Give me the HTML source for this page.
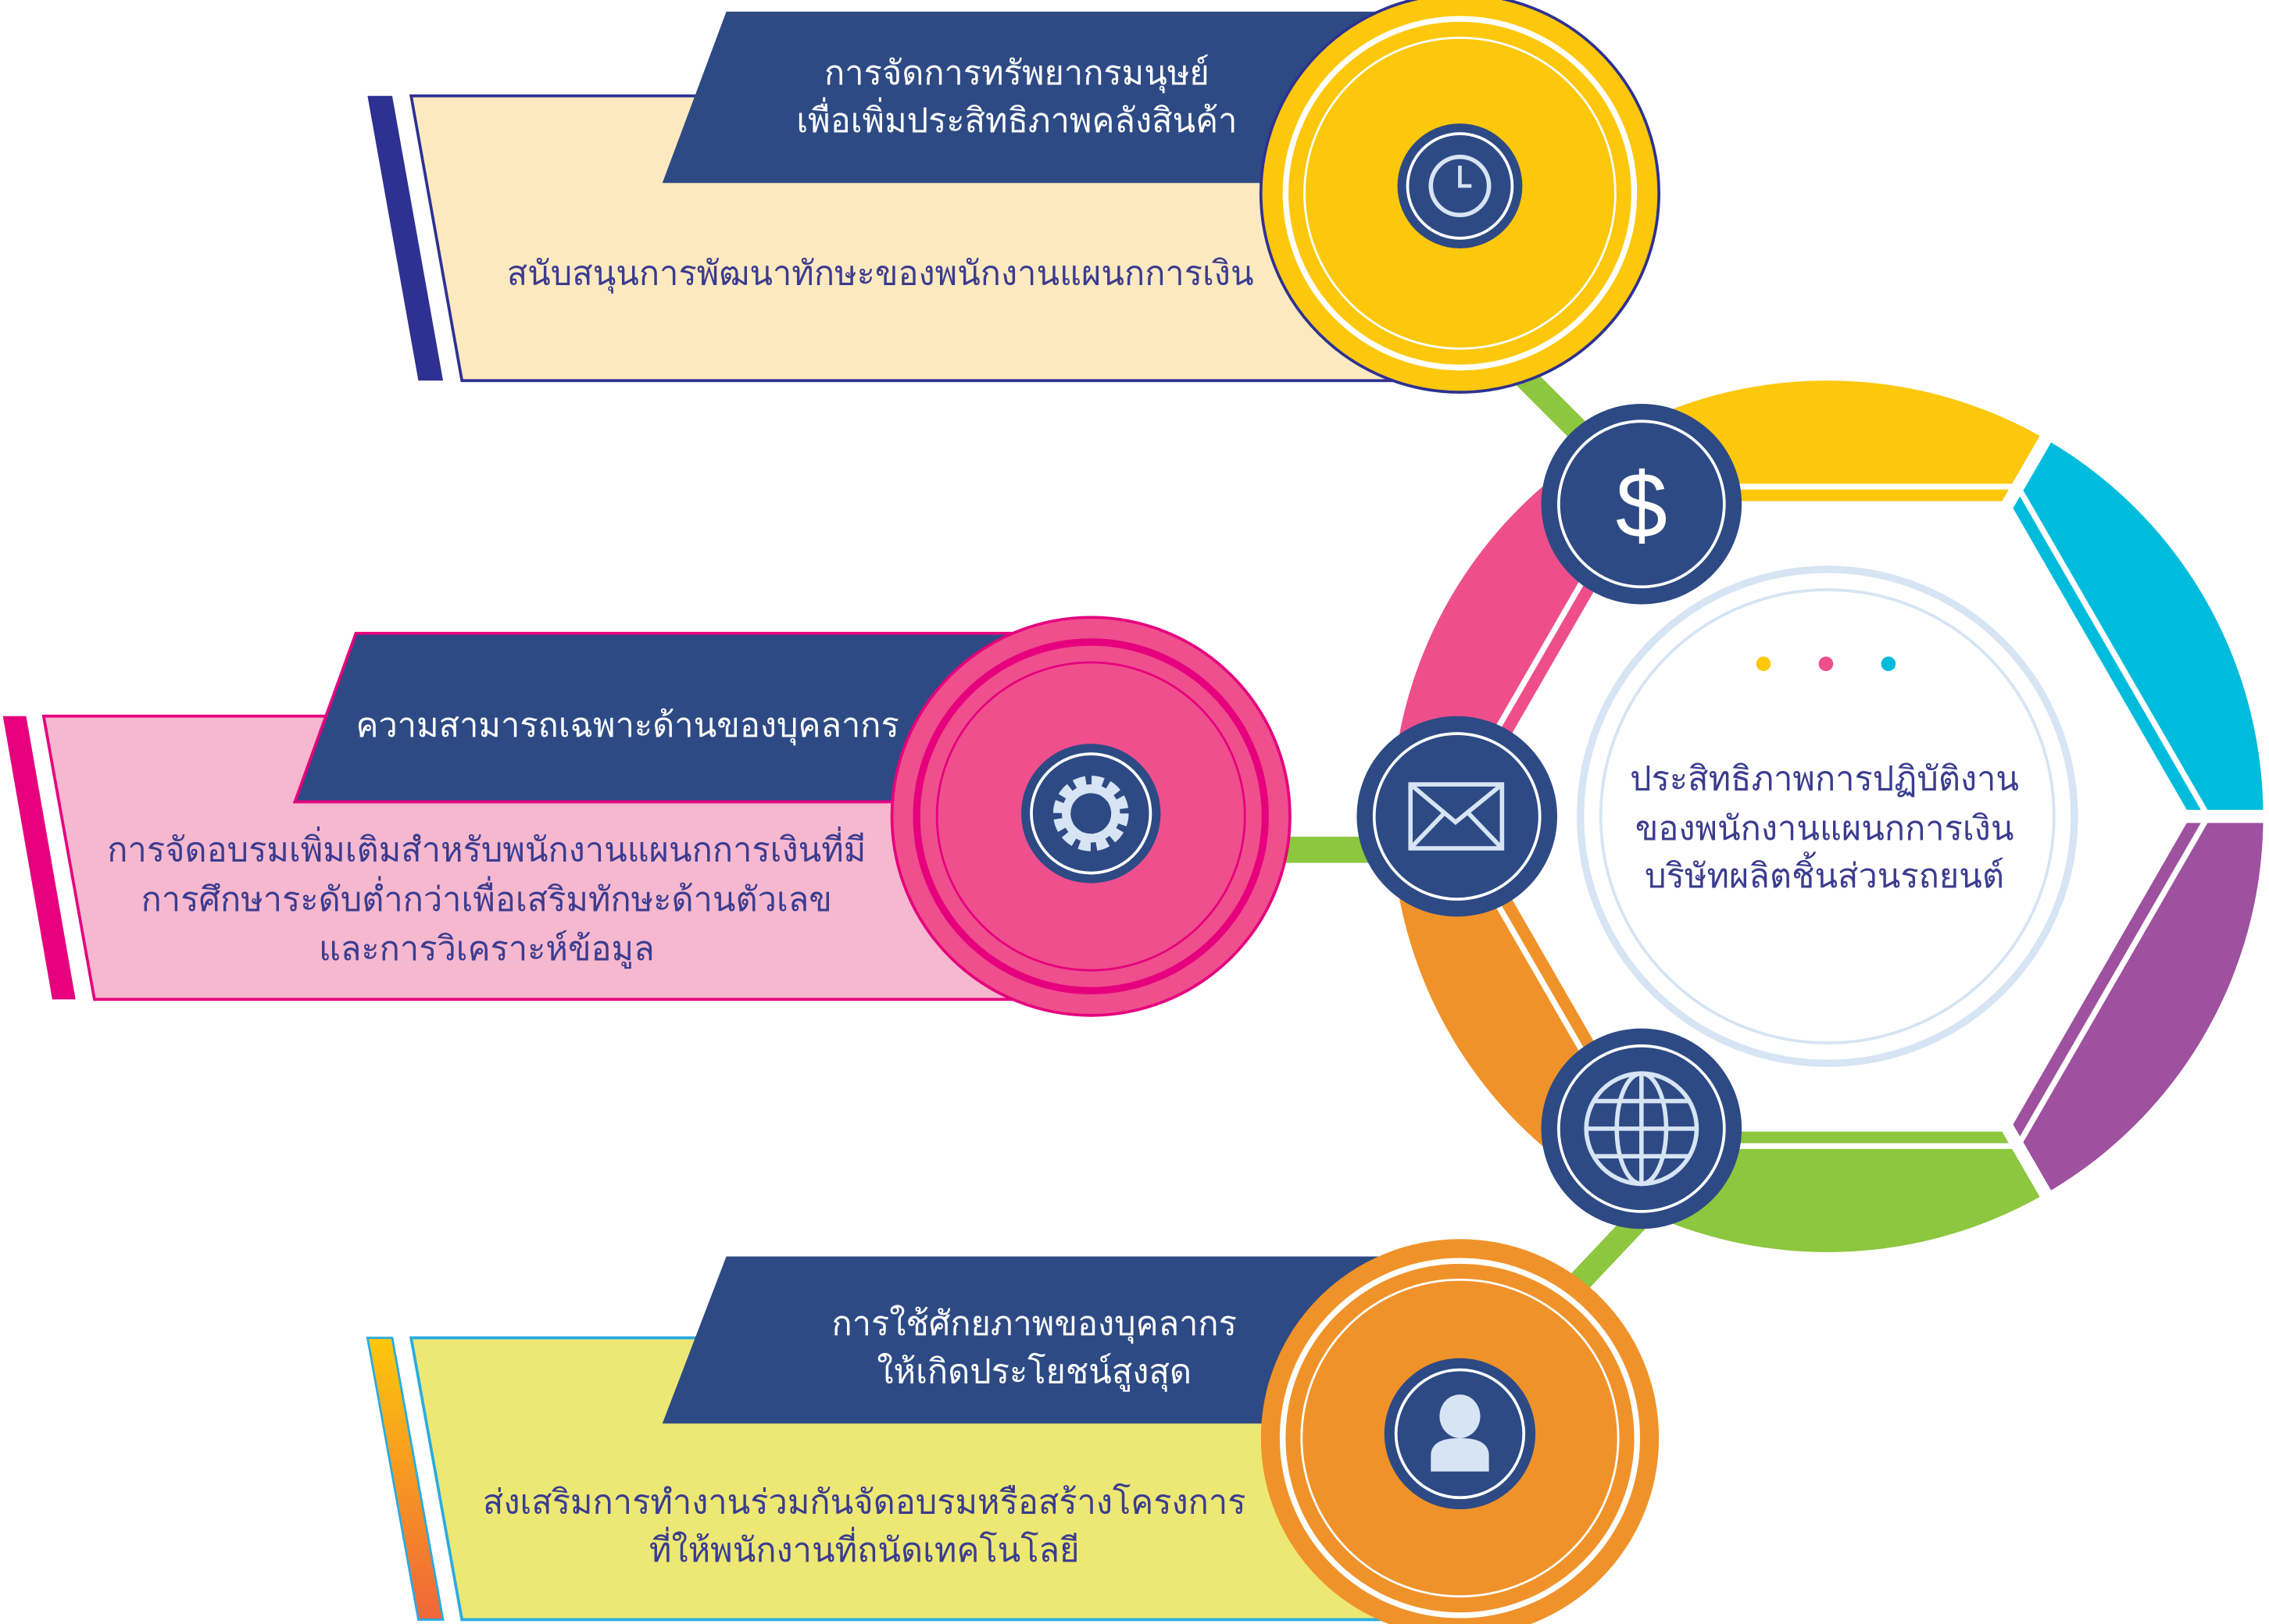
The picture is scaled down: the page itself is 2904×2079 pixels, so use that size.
<!DOCTYPE html>
<html><head><meta charset="utf-8"><style>
html,body{margin:0;padding:0;background:#fff;}
svg{display:block}
text{font-family:"Liberation Sans","DejaVu Sans","Noto Sans CJK SC",sans-serif;}
</style></head><body>
<svg width="2904" height="2079" viewBox="0 0 1562 1118" preserveAspectRatio="none" xmlns="http://www.w3.org/2000/svg">
<defs>
<clipPath id="ring"><circle cx="1258" cy="562" r="300"/></clipPath>
<linearGradient id="og" x1="0" y1="0" x2="0" y2="1"><stop offset="0" stop-color="#fdc70c"/><stop offset="1" stop-color="#f0663a"/></linearGradient>
</defs>

<g clip-path="url(#ring)">
<polygon points="1258,562 958,42 1558,42" fill="#fdc70c"/>
<polygon points="1258,562 1558,42 1600,562" fill="#00bcdc"/>
<polygon points="1258,562 1600,562 1558,1082" fill="#9e519f"/>
<polygon points="1258,562 1558,1082 958,1082" fill="#8dc63f"/>
<polygon points="1258,562 958,1082 900,562" fill="#f0922a"/>
<polygon points="1258,562 900,562 958,42" fill="#ee4f8a"/>
</g>
<polygon points="1520,562 1389,335 1127,335 996,562 1127,789 1389,789" fill="none" stroke="#fff" stroke-width="4"/>
<g stroke="#fff" stroke-width="9">
<line x1="1258" y1="562" x2="1560" y2="562"/>
<line x1="1258" y1="562" x2="1410" y2="299"/>
<line x1="1258" y1="562" x2="1410" y2="825"/>
<line x1="1258" y1="562" x2="1106" y2="299"/>
<line x1="1258" y1="562" x2="1106" y2="825"/>
<line x1="1258" y1="562" x2="950" y2="562"/>
</g>
<polygon points="1508,562 1383,345 1133,345 1008,562 1133,779 1383,779" fill="#fff"/>

<line x1="1045" y1="255" x2="1095" y2="305" stroke="#8dc63f" stroke-width="16"/>
<line x1="880" y1="585" x2="945" y2="585" stroke="#8dc63f" stroke-width="18"/>
<line x1="1082" y1="888" x2="1132" y2="835" stroke="#8dc63f" stroke-width="16"/>

<circle cx="1258" cy="562" r="170" fill="#fff" stroke="#d6e4f4" stroke-width="5"/>
<circle cx="1258" cy="562" r="156" fill="none" stroke="#d6e4f4" stroke-width="2"/>
<circle cx="1214" cy="457" r="5" fill="#fdc70c"/>
<circle cx="1257" cy="457" r="5" fill="#ee4f8a"/>
<circle cx="1300" cy="457" r="5" fill="#00bcdc"/>
<g fill="#3b3c8f" font-size="23.3" text-anchor="middle">
<text x="1256" y="544">ประสิทธิภาพการปฏิบัติงาน</text>
<text x="1256" y="578">ของพนักงานแผนกการเงิน</text>
<text x="1256" y="611">บริษัทผลิตชิ้นส่วนรถยนต์</text>
</g>

<g>
<circle cx="1130" cy="347" r="69" fill="#2d4a84"/><circle cx="1130" cy="347" r="57" fill="none" stroke="#fff" stroke-width="2"/>
<text x="1130" y="370" font-size="64" fill="#fff" text-anchor="middle">$</text>
<circle cx="1003" cy="562" r="69" fill="#2d4a84"/><circle cx="1003" cy="562" r="57" fill="none" stroke="#fff" stroke-width="2"/>
<rect x="971" y="540" width="63" height="44" fill="none" stroke="#d6e4f4" stroke-width="3"/>
<polyline points="971,540 1002,566 1034,540" fill="none" stroke="#d6e4f4" stroke-width="3"/>
<line x1="971" y1="584" x2="994" y2="560" stroke="#d6e4f4" stroke-width="3"/><line x1="1034" y1="584" x2="1011" y2="560" stroke="#d6e4f4" stroke-width="3"/>
<circle cx="1130" cy="777" r="69" fill="#2d4a84"/><circle cx="1130" cy="777" r="57" fill="none" stroke="#fff" stroke-width="2"/>
<g fill="none" stroke="#d6e4f4" stroke-width="3">
<circle cx="1130" cy="777" r="38"/><ellipse cx="1130" cy="777" rx="17" ry="38"/>
<line x1="1130" y1="739" x2="1130" y2="815"/><line x1="1092" y1="777" x2="1168" y2="777"/>
<line x1="1097" y1="758" x2="1163" y2="758"/><line x1="1097" y1="796" x2="1163" y2="796"/>
</g>
</g>

<polygon points="253,66 270,66 305,262 288,262" fill="#2e3192"/>
<polygon points="283,66 960,66 960,262 318,262" fill="#fde9c0" stroke="#2e3192" stroke-width="2"/>
<polygon points="500,8 960,8 920,126 456,126" fill="#2d4a84"/>
<g fill="#fff" font-size="23.3" text-anchor="middle">
<text x="700" y="58">การจัดการทรัพยากรมนุษย์</text>
<text x="700" y="91">เพื่อเพิ่มประสิทธิภาพคลังสินค้า</text>
</g>
<text x="606" y="196" font-size="23.3" fill="#3b3c8f" text-anchor="middle">สนับสนุนการพัฒนาทักษะของพนักงานแผนกการเงิน</text>
<circle cx="1005" cy="133" r="137" fill="#fdc70c" stroke="#2e3192" stroke-width="2"/>
<circle cx="1005" cy="133" r="120" fill="none" stroke="#fff" stroke-width="4"/>
<circle cx="1005" cy="133" r="107" fill="none" stroke="#fff" stroke-width="1.5"/>
<circle cx="1005" cy="128" r="43" fill="#2d4a84"/>
<circle cx="1005" cy="128" r="36" fill="none" stroke="#fff" stroke-width="2"/>
<circle cx="1005" cy="128" r="20" fill="none" stroke="#d6e4f4" stroke-width="3"/>
<polyline points="1005,114 1005,128 1013,128" fill="none" stroke="#d6e4f4" stroke-width="2.5"/>

<polygon points="2,493 18,493 52,688 36,688" fill="#e6007e"/>
<polygon points="30,493 720,493 720,688 65,688" fill="#f6b8cf" stroke="#e6007e" stroke-width="2"/>
<polygon points="245,436 720,436 700,552 203,552" fill="#2d4a84" stroke="#e6007e" stroke-width="2"/>
<text x="432" y="507" font-size="23.3" fill="#fff" text-anchor="middle">ความสามารถเฉพาะด้านของบุคลากร</text>
<g fill="#3b3c8f" font-size="23.3" text-anchor="middle">
<text x="335" y="593">การจัดอบรมเพิ่มเติมสำหรับพนักงานแผนกการเงินที่มี</text>
<text x="335" y="627">การศึกษาระดับต่ำกว่าเพื่อเสริมทักษะด้านตัวเลข</text>
<text x="335" y="661">และการวิเคราะห์ข้อมูล</text>
</g>
<circle cx="751" cy="562" r="137" fill="#ef4f8d" stroke="#e6007e" stroke-width="2"/>
<circle cx="751" cy="562" r="120" fill="none" stroke="#e6007e" stroke-width="5"/>
<circle cx="751" cy="562" r="106" fill="none" stroke="#e6007e" stroke-width="1.5"/>
<circle cx="751" cy="560" r="48" fill="#2d4a84"/>
<circle cx="751" cy="560" r="41" fill="none" stroke="#fff" stroke-width="2"/>
<circle cx="751" cy="560" r="20" fill="none" stroke="#d6e4f4" stroke-width="12" stroke-dasharray="7 3.5"/>
<circle cx="751" cy="560" r="17" fill="none" stroke="#d6e4f4" stroke-width="6"/>

<polygon points="253,921 270,921 305,1115 288,1115" fill="url(#og)" stroke="#29abe2" stroke-width="1.5"/>
<polygon points="283,921 960,921 960,1115 318,1115" fill="#ece873" stroke="#29abe2" stroke-width="2"/>
<polygon points="500,865 960,865 960,980 456,980" fill="#2d4a84"/>
<g fill="#fff" font-size="23.3" text-anchor="middle">
<text x="712" y="919">การใช้ศักยภาพของบุคลากร</text>
<text x="712" y="952">ให้เกิดประโยชน์สูงสุด</text>
</g>
<g fill="#3b3c8f" font-size="23.3" text-anchor="middle">
<text x="595" y="1042">ส่งเสริมการทำงานร่วมกันจัดอบรมหรือสร้างโครงการ</text>
<text x="595" y="1075">ที่ให้พนักงานที่ถนัดเทคโนโลยี</text>
</g>
<circle cx="1005" cy="990" r="137" fill="#f0922a"/>
<circle cx="1005" cy="990" r="122" fill="none" stroke="#fff" stroke-width="4"/>
<circle cx="1005" cy="990" r="109" fill="none" stroke="#fff" stroke-width="1.5"/>
<circle cx="1005" cy="987" r="52" fill="#2d4a84"/>
<circle cx="1005" cy="987" r="44" fill="none" stroke="#fff" stroke-width="2"/>
<ellipse cx="1005" cy="975" rx="14" ry="15" fill="#d6e4f4"/>
<path d="M985,1013 L985,1002 Q985,990 1005,990 Q1025,990 1025,1002 L1025,1013 Z" fill="#d6e4f4"/>
</svg>
</body></html>
